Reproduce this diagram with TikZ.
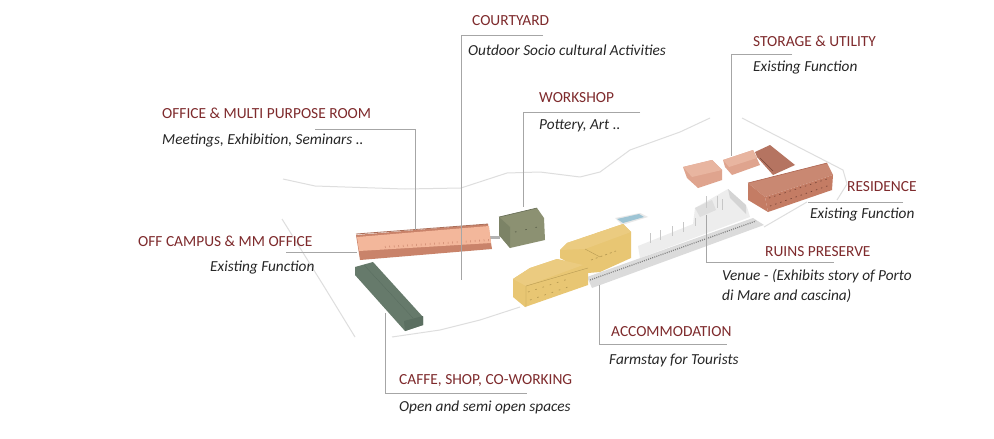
\documentclass[tikz,border=0pt]{standalone}
\usepackage{fontspec}
\setmainfont{Carlito}
\usepackage{tikz}
\usetikzlibrary{positioning, calc}
\definecolor{labelred}{HTML}{7E2A2C}
\definecolor{noteblack}{HTML}{262626}
\definecolor{salmonlight}{HTML}{F3B79B}
\definecolor{salmondark}{HTML}{C9836A}
\definecolor{brickfront}{HTML}{C47C64}
\definecolor{brickroof}{HTML}{C98872}
\definecolor{brickdark}{HTML}{AD6450}
\definecolor{rosewall}{HTML}{DFA48E}
\definecolor{roseroof}{HTML}{E8B5A0}
\definecolor{olivewall}{HTML}{8C9172}
\definecolor{olivedark}{HTML}{7C8366}
\definecolor{greenwall}{HTML}{667A6B}
\definecolor{greendark}{HTML}{5B6F61}
\definecolor{yellowwall}{HTML}{E8C673}
\definecolor{yellowroof}{HTML}{EBCB80}
\definecolor{yellowmark}{HTML}{B79A52}
\begin{document}
\begin{tikzpicture}[
                x=1pt, y=-1pt,
                title/.style={anchor=west, inner sep=0pt, yshift=-1pt, text=labelred, font=\fontsize{15.4}{18}\selectfont},
                note/.style={anchor=west, inner sep=0pt, yshift=-1pt, text=noteblack, font=\fontsize{15.3}{20}\selectfont\itshape},
                leader/.style={draw=black!35, line width=0.5pt},
                site/.style={draw=black!13, line width=1pt, line join=round},
                mass/.style={line width=0.3pt, line join=round},
                marks/.style={line width=0.7pt}
            ]%
            \path[use as bounding box, fill=white] (0,0) rectangle (994,439);
            %
            % Site outline
            \draw[site] (283,179) -- (315,186) -- (405,189) -- (461,188) -- (507,173) -- (540,172) -- (580,177) -- (600,172) -- (630,150) -- (680,132) -- (710,118);
            \draw[site] (742,118) -- (843,170) -- (847,184) -- (837,200);
            \draw[site] (807,202) -- (764,227);
            \draw[site] (282,219) -- (325,288) -- (355,337);
            \draw[site] (392,337) -- (440,330) -- (480,320) -- (520,307);
            %
            % Ruins and walkway
            \fill[mass, fill=black!7] (638,246) -- (693,224) -- (695,208) -- (728,189) -- (747,207) -- (750,217) -- (640,258) -- cycle;
            \fill[black!13] (695,208) -- (712,200) -- (716,210) -- (700,217) -- cycle;
            \fill[black!17] (728,189) -- (746,205) -- (746,214) -- (730,198) -- cycle;
            \draw[black!22, line width=1pt] (650,233) -- (650,243) (660,230) -- (660,240) (672,226) -- (672,236) (683,222) -- (683,232) (695,218) -- (695,226) (706,196) -- (706,208) (717,196) -- (717,208) (722,199) -- (722,210);
            \fill[mass, fill=black!14] (587,277) -- (753,218) -- (764,225) -- (592,288) -- cycle;
            \draw[black!50, line width=1.2pt, dash pattern=on 1pt off 1.2pt] (590,280) -- (756,221);
            %
            % Pool
            \fill[black!9] (615,218) -- (640,213) -- (648,217) -- (622,225) -- cycle;
            \fill[fill=cyan!20!teal!45] (617,219) -- (639,214) -- (644,217) -- (623,223) -- cycle;
            %
            % Office and multi purpose room
            \fill[black!30] (490,236) rectangle (500,239);
            \fill[mass, fill=salmondark] (356,235) -- (488,224) -- (492,249) -- (360,260) -- cycle;
            \fill[mass, fill=salmonlight] (357,237) -- (489,226) -- (491,243) -- (359,251) -- cycle;
            \draw[salmondark!85!black, line width=0.8pt] (356,234) -- (488,224);
            \draw[salmondark, line width=2pt, dash pattern=on 0.5pt off 4pt] (385,247) -- (490,240);
            %
            % Workshop
            \fill[mass, fill=olivewall] (499,217) -- (537,208) -- (544,218) -- (545,240) -- (510,248) -- (499,235) -- cycle;
            \fill[mass, fill=olivedark] (499,217) -- (510,227) -- (510,248) -- (499,235) -- cycle;
            \draw[olivedark!80!black, line width=0.6pt] (499,217) -- (537,208);
            \draw[olivedark!70!black, marks, dash pattern=on 1.5pt off 9pt] (515,232) -- (542,226);
            %
            % Caffe, shop, co-working
            \fill[mass, fill=greenwall] (355,267) -- (373,262) -- (423,317) -- (423,325) -- (405,331) -- (355,275) -- cycle;
            \fill[mass, fill=greendark] (404,321) -- (423,316) -- (423,325) -- (405,331) -- cycle;
            \draw[greendark, line width=0.4pt] (364,265) -- (413,318);
            %
            % Accommodation
            \fill[mass, fill=yellowwall] (560,250) -- (567,243) -- (623,224) -- (631,232) -- (631,258) -- (600,272) -- (588,273) -- (560,258) -- cycle;
            \fill[mass, fill=yellowroof] (560,250) -- (567,243) -- (623,224) -- (631,232) -- (585,249) -- cycle;
            \fill[mass, fill=yellowwall] (513,279) -- (530,268) -- (557,259) -- (583,265) -- (588,268) -- (588,285) -- (525,307) -- (513,297) -- cycle;
            \fill[mass, fill=yellowroof] (513,279) -- (530,268) -- (557,259) -- (583,265) -- (526,286) -- cycle;
            \draw[yellowmark, line width=0.4pt] (526,286) -- (526,307) (588,268) -- (526,286) (585,249) -- (600,257);
            \draw[yellowmark, marks, dash pattern=on 1.6pt off 6pt] (528,292) -- (568,279);
            \draw[yellowmark, marks, dash pattern=on 1.6pt off 6pt] (530,300) -- (568,287);
            \draw[yellowmark, marks, dash pattern=on 2pt off 3pt] (591,260) -- (616,251);
            %
            % Storage and utility
            \fill[mass, fill=rosewall] (683,167) -- (712,160) -- (722,170) -- (722,180) -- (698,188) -- (687,178) -- cycle;
            \fill[mass, fill=roseroof] (683,167) -- (712,160) -- (722,170) -- (692,177) -- cycle;
            \fill[mass, fill=rosewall] (723,160) -- (753,150) -- (760,165) -- (732,175) -- (725,167) -- cycle;
            \fill[mass, fill=roseroof] (723,160) -- (753,150) -- (757,158) -- (729,167) -- cycle;
            \fill[mass, fill=brickdark!90!white] (755,152) -- (770,145) -- (795,165) -- (773,175) -- (757,157) -- cycle;
            \draw[brickdark!70!black, line width=0.5pt] (760,158) -- (773,171);
            %
            % Residence
            \fill[mass, fill=brickroof] (748,183) -- (827,163) -- (833,175) -- (765,197) -- cycle;
            \fill[mass, fill=brickfront] (765,197) -- (833,175) -- (832,190) -- (768,212) -- cycle;
            \fill[mass, fill=brickfront] (748,183) -- (765,197) -- (768,212) -- (748,200) -- cycle;
            \draw[brickdark, line width=0.6pt] (748,183) -- (827,163);
            \draw[brickdark!70!black, marks, dash pattern=on 1.4pt off 4pt] (769,198) -- (830,178);
            \draw[brickdark!70!black, marks, dash pattern=on 1.4pt off 4pt] (770,206) -- (830,185);
            %
            % Titles
            \node[title] (courtyard) at (472,20) {COURTYARD};
            \node[title] (storage) at (753,40) {STORAGE \& UTILITY};
            \node[title] (workshop) at (539,97) {WORKSHOP};
            \node[title] (office) at (162,112) {OFFICE \& MULTI PURPOSE ROOM};
            \node[title] (residence) at (847,186) {RESIDENCE};
            \node[title] (offcampus) at (138,240) {OFF CAMPUS \& MM OFFICE};
            \node[title] (ruins) at (765,251) {RUINS PRESERVE};
            \node[title] (accommodation) at (611,331) {ACCOMMODATION};
            \node[title] (caffe) at (399,379) {CAFFE, SHOP, CO-WORKING};
            %
            % Notes
            \node[note] (courtyardnote) at (468,49) {Outdoor Socio cultural Activities};
            \node[note] (storagenote) at (753,67) {Existing Function};
            \node[note] (workshopnote) at (539,125) {Pottery, Art ..};
            \node[note] (officenote) at (162,139) {Meetings, Exhibition, Seminars ..};
            \node[note] (residencenote) at (810,214) {Existing Function};
            \node[note] (offcampusnote) at (210,267) {Existing Function};
            \node[note, align=left] (ruinsnote) at (722,285) {Venue - (Exhibits story of Porto\\di Mare and cascina)};
            \node[note] (accommodationnote) at (609,359) {Farmstay for Tourists};
            \node[note] (caffenote) at (399,406) {Open and semi open spaces};
            %
            % Leader ends
            \coordinate (courtyardend) at (543,35);
            \coordinate (courtyardbend) at (461,35);
            \coordinate (courtyardtip) at (461,280);
            \coordinate (officeend) at (315,129);
            \coordinate (officebend) at (415,129);
            \coordinate (officetip) at (415,230);
            \coordinate (workshopend) at (640,112);
            \coordinate (workshopbend) at (523,112);
            \coordinate (workshoptip) at (523,207);
            \coordinate (storageend) at (792,54);
            \coordinate (storagebend) at (731,54);
            \coordinate (storagetip) at (731,156);
            \coordinate (residenceend) at (903,202);
            \coordinate (residencetip) at (808,202);
            \coordinate (offcampusend) at (286,252);
            \coordinate (offcampustip) at (357,252);
            \coordinate (ruinstip) at (706,215);
            \coordinate (ruinsbend) at (706,262);
            \coordinate (ruinsend) at (834,262);
            \coordinate (accommodationtip) at (599,285);
            \coordinate (accommodationbend) at (599,344);
            \coordinate (accommodationend) at (727,344);
            \coordinate (caffetip) at (385,313);
            \coordinate (caffebend) at (385,393);
            \coordinate (caffeend) at (527,393);
            %
            % Leaders
            \draw[leader] (courtyardend) -- (courtyardbend) -- (courtyardtip);
            \draw[leader] (officeend) -- (officebend) -- (officetip);
            \draw[leader] (workshopend) -- (workshopbend) -- (workshoptip);
            \draw[leader] (storageend) -- (storagebend) -- (storagetip);
            \draw[leader] (residenceend) -- (residencetip);
            \draw[leader] (offcampusend) -- (offcampustip);
            \draw[leader] (ruinstip) -- (ruinsbend) -- (ruinsend);
            \draw[leader] (accommodationtip) -- (accommodationbend) -- (accommodationend);
            \draw[leader] (caffetip) -- (caffebend) -- (caffeend);
        \end{tikzpicture}
\end{document}
